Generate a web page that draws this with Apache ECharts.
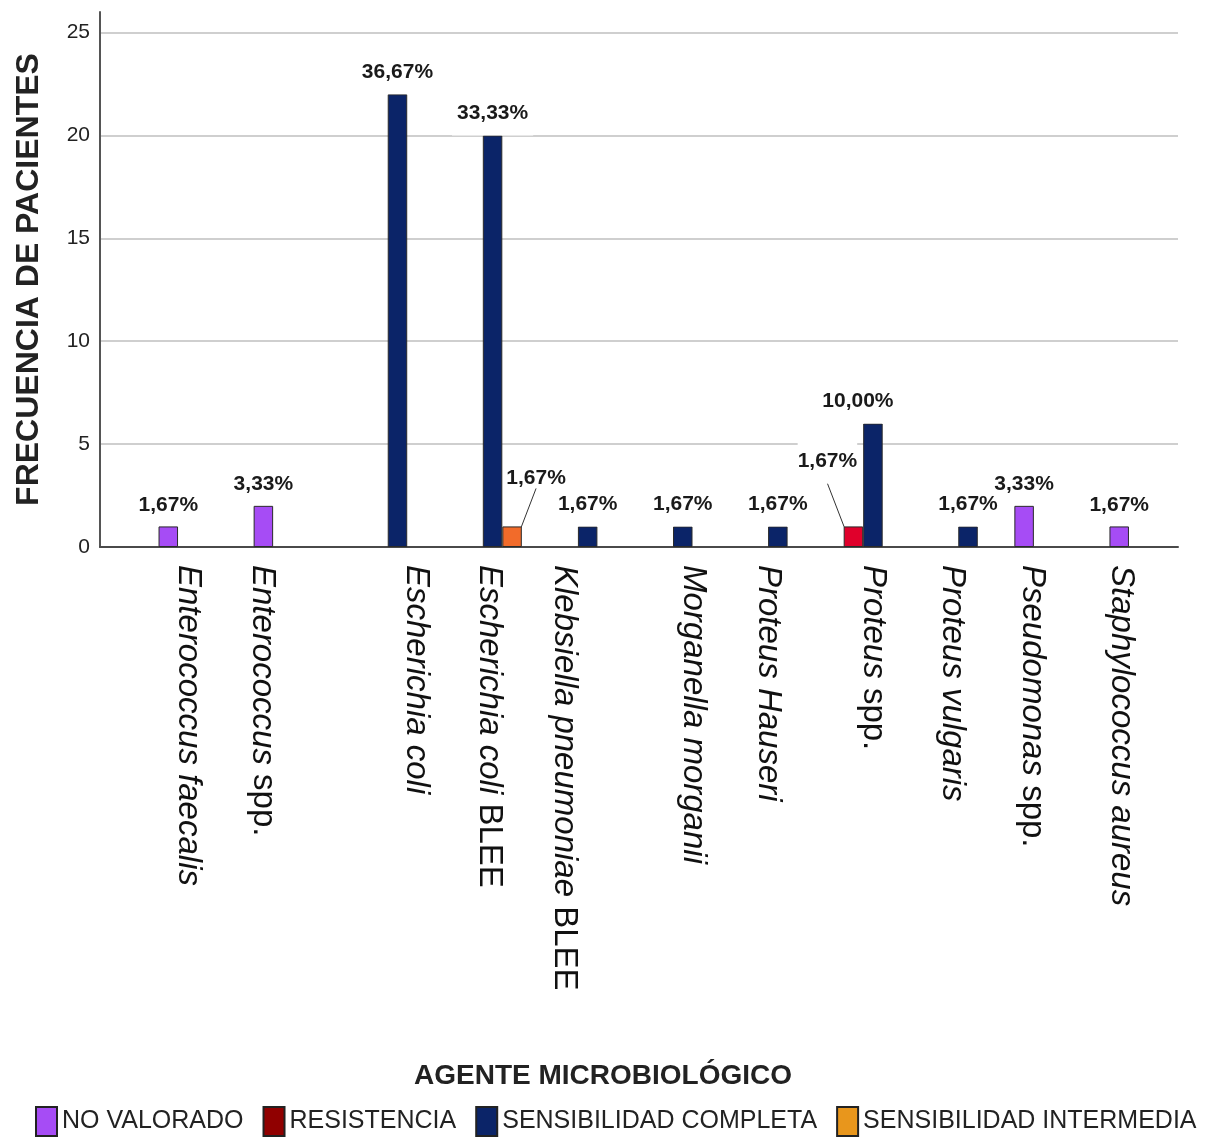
<!DOCTYPE html>
<html lang="es" style="height: 100%">
<head>
    <meta charset="UTF-8">
    <title>Agente microbiológico y sensibilidad</title>
    <script src="https://cdn.jsdelivr.net/npm/echarts@6/dist/echarts.min.js"></script>
</head>
<body style="margin: 0; background: #fff">
<div id="main" style="width: 1206px; height: 1140px"></div>
<script>
    // datos (frecuencia de pacientes)
    var categorias = ['Enterococcus faecalis', 'Enterococcus spp.', 'Escherichia coli', 'Escherichia coli BLEE',
        'Klebsiella pneumoniae BLEE', 'Morganella morganii', 'Proteus Hauseri', 'Proteus spp.',
        'Proteus vulgaris', 'Pseudomonas spp.', 'Staphylococcus aureus'];
    var noValorado     = [1, 2, null, null, null, null, null, null, null, 2, 1];
    var resistencia    = [null, null, null, null, null, null, null, 1, null, null, null];
    var sensCompleta   = [null, null, 22, 20, 1, 1, 1, 6, 1, null, null];
    var sensIntermedia = [null, null, null, 1, null, null, null, null, null, null, null];
    var series_nombres = ['NO VALORADO', 'RESISTENCIA', 'SENSIBILIDAD COMPLETA', 'SENSIBILIDAD INTERMEDIA'];

    // ajuste lateral de cada etiqueta del eje x (px), como en el original
    var ajusteEtiqueta = [-9, -30, 28, 6, -14, 20, 0, 10, -6, -21, -27];

    var total = 0;
    [noValorado, resistencia, sensCompleta, sensIntermedia].forEach(function (arr) {
        arr.forEach(function (v) { total += v || 0; });
    });

    var sans = '"Liberation Sans", Arial, sans-serif';

    function pct(p) {
        return (p.value / total * 100).toFixed(2).replace('.', ',') + '%';
    }

    // etiquetas en cursiva salvo "spp." y "BLEE"
    function etiqueta(txt) {
        return txt.split(' ').map(function (w) {
            return (w === 'spp.' || w === 'BLEE') ? '{n|' + w + '}' : '{i|' + w + '}';
        }).join('{i| }');
    }

    var catData = categorias.map(function (c, i) {
        var o = ajusteEtiqueta[i];
        return {value: c, textStyle: {padding: o > 0 ? [0, 0, 2 * o, 0] : [-2 * o, 0, 0, 0]}};
    });

    // desplazamiento de algunas etiquetas de valor (como en el original)
    var moverEtiqueta = {
        '1-7': {dx: -26, dy: -43},
        '2-7': {dx: -15, dy: 0},
        '3-3': {dx: 24, dy: -27}
    };

    function barra(nombre, datos, color, opts) {
        opts = opts || {};
        return {
            name: nombre,
            type: 'bar',
            xAxisIndex: 1,
            yAxisIndex: 1,
            data: datos,
            barWidth: 19.5,
            barGap: '0%',
            itemStyle: {color: color, borderColor: '#2a2a2a', borderWidth: 1},
            label: {
                show: true,
                position: 'top',
                distance: opts.fondo ? 0 : 11,
                formatter: pct,
                fontFamily: sans,
                fontWeight: 'bold',
                fontSize: 21,
                color: '#1a1a1a',
                backgroundColor: opts.fondo ? '#fff' : 'transparent',
                padding: opts.fondo || 0
            },
            labelLine: {show: !!opts.linea, lineStyle: {color: '#333', width: 1}},
            labelLayout: function (p) {
                return moverEtiqueta[p.seriesIndex + '-' + p.dataIndex] || {};
            }
        };
    }

    var option = {
        backgroundColor: '#fff',
        animation: false,
        title: {
            text: 'AGENTE MICROBIOLÓGICO',
            left: 'center',
            top: 1062,
            padding: 0,
            textStyle: {fontFamily: sans, fontWeight: 'bold', fontSize: 28, color: '#222'}
        },
        legend: {
            data: [
                {name: series_nombres[0], itemStyle: {color: '#a64cf5', borderColor: '#222', borderWidth: 2}},
                {name: series_nombres[1], itemStyle: {color: '#900000', borderColor: '#222', borderWidth: 2}},
                {name: series_nombres[2], itemStyle: {color: '#0b2468', borderColor: '#222', borderWidth: 2}},
                {name: series_nombres[3], itemStyle: {color: '#e8961c', borderColor: '#222', borderWidth: 2}}
            ],
            icon: 'rect',
            left: 35,
            top: 1106,
            padding: 0,
            itemWidth: 21,
            itemHeight: 29,
            itemGap: 19,
            textStyle: {fontFamily: sans, fontSize: 25, color: '#222'}
        },
        grid: [
            {left: 100, right: 28, top: 12, bottom: 593},
            {left: 150, right: 10, top: 12, bottom: 593}
        ],
        xAxis: [
            {
                gridIndex: 0, type: 'value', min: 0, max: 1,
                axisLine: {show: true, lineStyle: {color: '#4a4a4a', width: 2}},
                axisTick: {show: false}, axisLabel: {show: false}, splitLine: {show: false}
            },
            {
                gridIndex: 1, type: 'category', data: catData,
                axisLine: {show: false}, axisTick: {show: false},
                axisLabel: {
                    interval: 0, rotate: -90, margin: 18,
                    formatter: etiqueta,
                    rich: {
                        i: {fontFamily: sans, fontStyle: 'italic', fontSize: 33, color: '#111'},
                        n: {fontFamily: sans, fontSize: 33, color: '#111'}
                    }
                }
            }
        ],
        yAxis: [
            {
                gridIndex: 0, type: 'value', min: 0, max: 26, interval: 5,
                name: 'FRECUENCIA DE PACIENTES', nameLocation: 'middle', nameGap: 55,
                nameTextStyle: {fontFamily: sans, fontWeight: 'bold', fontSize: 32, color: '#222'},
                axisLine: {show: true, lineStyle: {color: '#555', width: 2}},
                axisTick: {show: false},
                axisLabel: {showMaxLabel: false, margin: 10, fontFamily: sans, fontSize: 21, color: '#222'},
                splitLine: {show: true, showMaxLine: false, lineStyle: {color: '#cfcfcf', width: 2}}
            },
            {
                gridIndex: 1, type: 'value', min: 0, max: 26, show: false,
                splitLine: {show: false}
            }
        ],
        series: [
            barra(series_nombres[0], noValorado, '#a64cf5'),
            barra(series_nombres[1], resistencia, '#e0002b', {linea: true, fondo: [8, 0, 12, 0]}),
            barra(series_nombres[2], sensCompleta, '#0b2468', {fondo: [2, 5, 12, 5]}),
            barra(series_nombres[3], sensIntermedia, '#f26b2a', {linea: true})
        ]
    };

    var myChart = echarts.init(document.getElementById('main'));
    myChart.setOption(option);
</script>
</body>
</html>
